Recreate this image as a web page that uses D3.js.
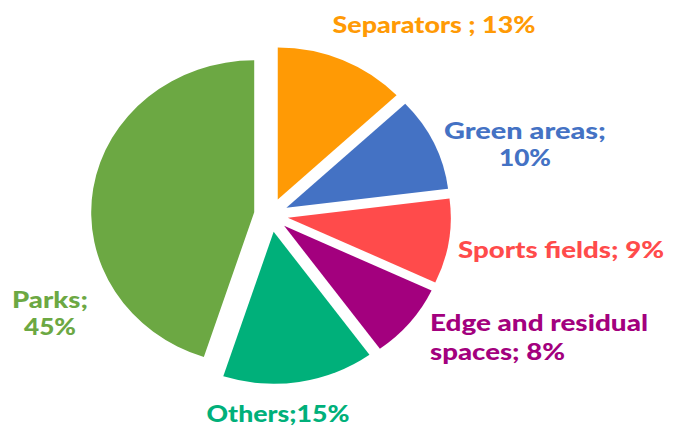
<!DOCTYPE html>
<html>
<head>
<meta charset="utf-8">
<script src="https://cdn.jsdelivr.net/npm/d3@7"></script>
<style>
  body { margin: 0; background: #fff; }
  text { font-family: Lato, "DejaVu Sans", sans-serif; font-weight: 900; font-style: normal; }
</style>
</head>
<body>
<div id="chart"></div>
<script>
const categories = ['Separators', 'Green areas', 'Sports fields', 'Edge and residual spaces', 'Others', 'Parks'];
const values = [13, 10, 9, 8, 15, 45];
const colors = ['#FF9A05', '#4472C4', '#FF4B4B', '#A3007E', '#00B07A', '#6CA843'];

// label lines per slice, placed by hand like the original
const labelLines = [
  ['Separators ; 13%'],
  ['Green areas;', '10%'],
  ['Sports fields; 9%'],
  ['Edge and residual', 'spaces; 8%'],
  ['Others;15%'],
  ['Parks;', '45%']
];
const labelLayout = [
  {x: 434, y: 33, anchor: 'middle', w: [203]},
  {x: 525, y: 139, anchor: 'middle', w: [162, 52], dy: 27},
  {x: 561, y: 258, anchor: 'middle', w: [206]},
  {x: 430, y: 331, anchor: 'start', w: [218, 135], dy: 29},
  {x: 278, y: 422, anchor: 'middle', w: [143]},
  {x: 50, y: 308, anchor: 'middle', w: [76, 52], dy: 27}
];

const width = 680, height = 433;
const cx = 271, cy = 215;
const ry = 152, sx = 163 / 152;
const explode = 17;

const svg = d3.select('#chart').append('svg')
  .attr('width', width)
  .attr('height', height);

const pie = d3.pie().sort(null).value(d => d);
const arc = d3.arc().innerRadius(0).outerRadius(ry);
const arcs = pie(values);

svg.selectAll('g.slice')
  .data(arcs)
  .join('g')
  .attr('class', 'slice')
  .attr('transform', d => {
    const a = (d.startAngle + d.endAngle) / 2;
    const dx = Math.sin(a) * explode, dy = -Math.cos(a) * explode;
    return `translate(${cx + dx}, ${cy + dy}) scale(${sx}, 1)`;
  })
  .append('path')
  .attr('d', arc)
  .attr('fill', (d, i) => colors[i]);

const labels = svg.selectAll('text.label')
  .data(labelLines)
  .join('text')
  .attr('class', 'label')
  .attr('font-size', 22)
  .attr('fill', (d, i) => colors[i])
  .attr('text-anchor', (d, i) => labelLayout[i].anchor);

labels.each(function(lines, i) {
  const L = labelLayout[i];
  d3.select(this).selectAll('tspan')
    .data(lines)
    .join('tspan')
    .attr('x', L.x)
    .attr('y', (t, j) => L.y + j * (L.dy || 0))
    .attr('textLength', (t, j) => L.w[j])
    .attr('lengthAdjust', 'spacingAndGlyphs')
    .text(t => t);
});
</script>
</body>
</html>
